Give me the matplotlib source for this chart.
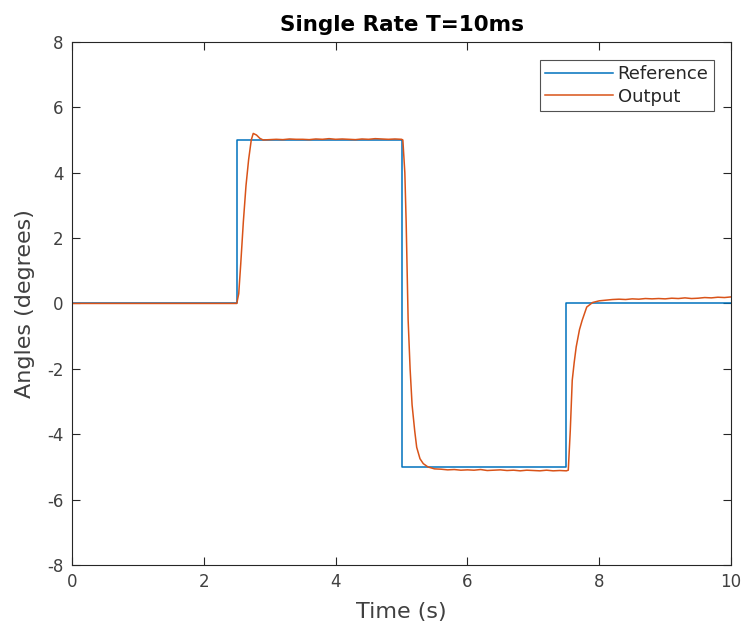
import matplotlib
matplotlib.use("Agg")
import matplotlib.pyplot as plt

plt.rcParams['axes.unicode_minus'] = False

# Reference step signal
ref_t = [0, 2.5, 2.5, 5.0, 5.0, 7.5, 7.5, 10.0]
ref_y = [0, 0, 5, 5, -5, -5, 0, 0]

out_t = [0, 0.5, 1.0, 1.5, 2.0, 2.5,
         2.53, 2.56, 2.60, 2.64, 2.68, 2.72, 2.75, 2.80, 2.85, 2.90,
         3.0, 3.1, 3.2, 3.3, 3.4, 3.5, 3.6, 3.7, 3.8, 3.9, 4.0, 4.1, 4.2, 4.3,
         4.4, 4.5, 4.6, 4.7, 4.8, 4.9, 5.0,
         5.02, 5.05, 5.07, 5.10, 5.13, 5.16, 5.20, 5.23, 5.28, 5.33, 5.40, 5.5,
         5.6, 5.7, 5.8, 5.9, 6.0, 6.1, 6.2, 6.3, 6.4, 6.5, 6.6, 6.7, 6.8, 6.9,
         7.0, 7.1, 7.2, 7.3, 7.4, 7.5,
         7.53, 7.56, 7.59, 7.62, 7.65, 7.70, 7.74, 7.81, 7.90,
         8.0, 8.1, 8.2, 8.3, 8.4, 8.5, 8.6, 8.7, 8.8, 8.9, 9.0, 9.1, 9.2, 9.3,
         9.4, 9.5, 9.6, 9.7, 9.8, 9.9, 10.0]
out_y = [0, 0, 0, 0, 0, 0,
         0.3, 1.2, 2.5, 3.6, 4.4, 5.0, 5.2, 5.15, 5.05, 5.0,
         5.01, 5.02, 5.01, 5.03, 5.02, 5.02, 5.01, 5.03, 5.02, 5.04, 5.02, 5.03, 5.02, 5.01,
         5.03, 5.02, 5.04, 5.03, 5.02, 5.03, 5.02,
         5.0, 4.0, 2.5, -0.5, -2.0, -3.1, -3.9, -4.4, -4.75, -4.9, -5.0, -5.06,
         -5.07, -5.09, -5.08, -5.10, -5.09, -5.10, -5.08, -5.11, -5.10, -5.09, -5.11, -5.10, -5.12, -5.10,
         -5.11, -5.12, -5.10, -5.12, -5.11, -5.12,
         -5.1, -3.9, -2.35, -1.8, -1.33, -0.8, -0.52, -0.11, 0.03,
         0.08, 0.10, 0.12, 0.13, 0.12, 0.14, 0.13, 0.15, 0.14, 0.15, 0.14, 0.16, 0.15, 0.17,
         0.15, 0.16, 0.18, 0.17, 0.19, 0.18, 0.2]

x_ticks = [0, 2, 4, 6, 8, 10]
y_ticks = [-8, -6, -4, -2, 0, 2, 4, 6, 8]

fig = plt.figure(figsize=(7.46, 6.25), dpi=100)
ax = fig.add_axes([0.0965, 0.096, 0.8835, 0.837])

axcol = '#262626'
tickcol = '#404040'
ax.plot(ref_t, ref_y, color='#0072BD', lw=1.1, label='Reference')
ax.plot(out_t, out_y, color='#D95319', lw=1.1, label='Output')

ax.set_xlim(0, 10)
ax.set_ylim(-8, 8)
ax.set_xticks(x_ticks)
ax.set_yticks(y_ticks)
ax.tick_params(direction='in', length=6, width=0.8, top=True, right=True,
               labelsize=12, colors=axcol, labelcolor=tickcol, pad=6)
for s in ax.spines.values():
    s.set_color(axcol)
    s.set_linewidth(0.8)

ax.set_xlabel('Time (s)', fontsize=16, color=tickcol, labelpad=8)
ax.set_ylabel('Angles (degrees)', fontsize=16, color=tickcol, labelpad=9)
ax.set_title('Single Rate T=10ms', fontsize=15.5, fontweight='bold', color='black', pad=8)

leg = ax.legend(loc='upper right', bbox_to_anchor=(0.974, 0.966), fontsize=13,
                frameon=True, fancybox=False, handlelength=3.75, handletextpad=0.25,
                borderpad=0.3, labelspacing=0.25, borderaxespad=0)
leg.get_frame().set_edgecolor(axcol)
leg.get_frame().set_linewidth(0.8)
for t in leg.get_texts():
    t.set_color(axcol)

fig.savefig('out.png', dpi=100)
